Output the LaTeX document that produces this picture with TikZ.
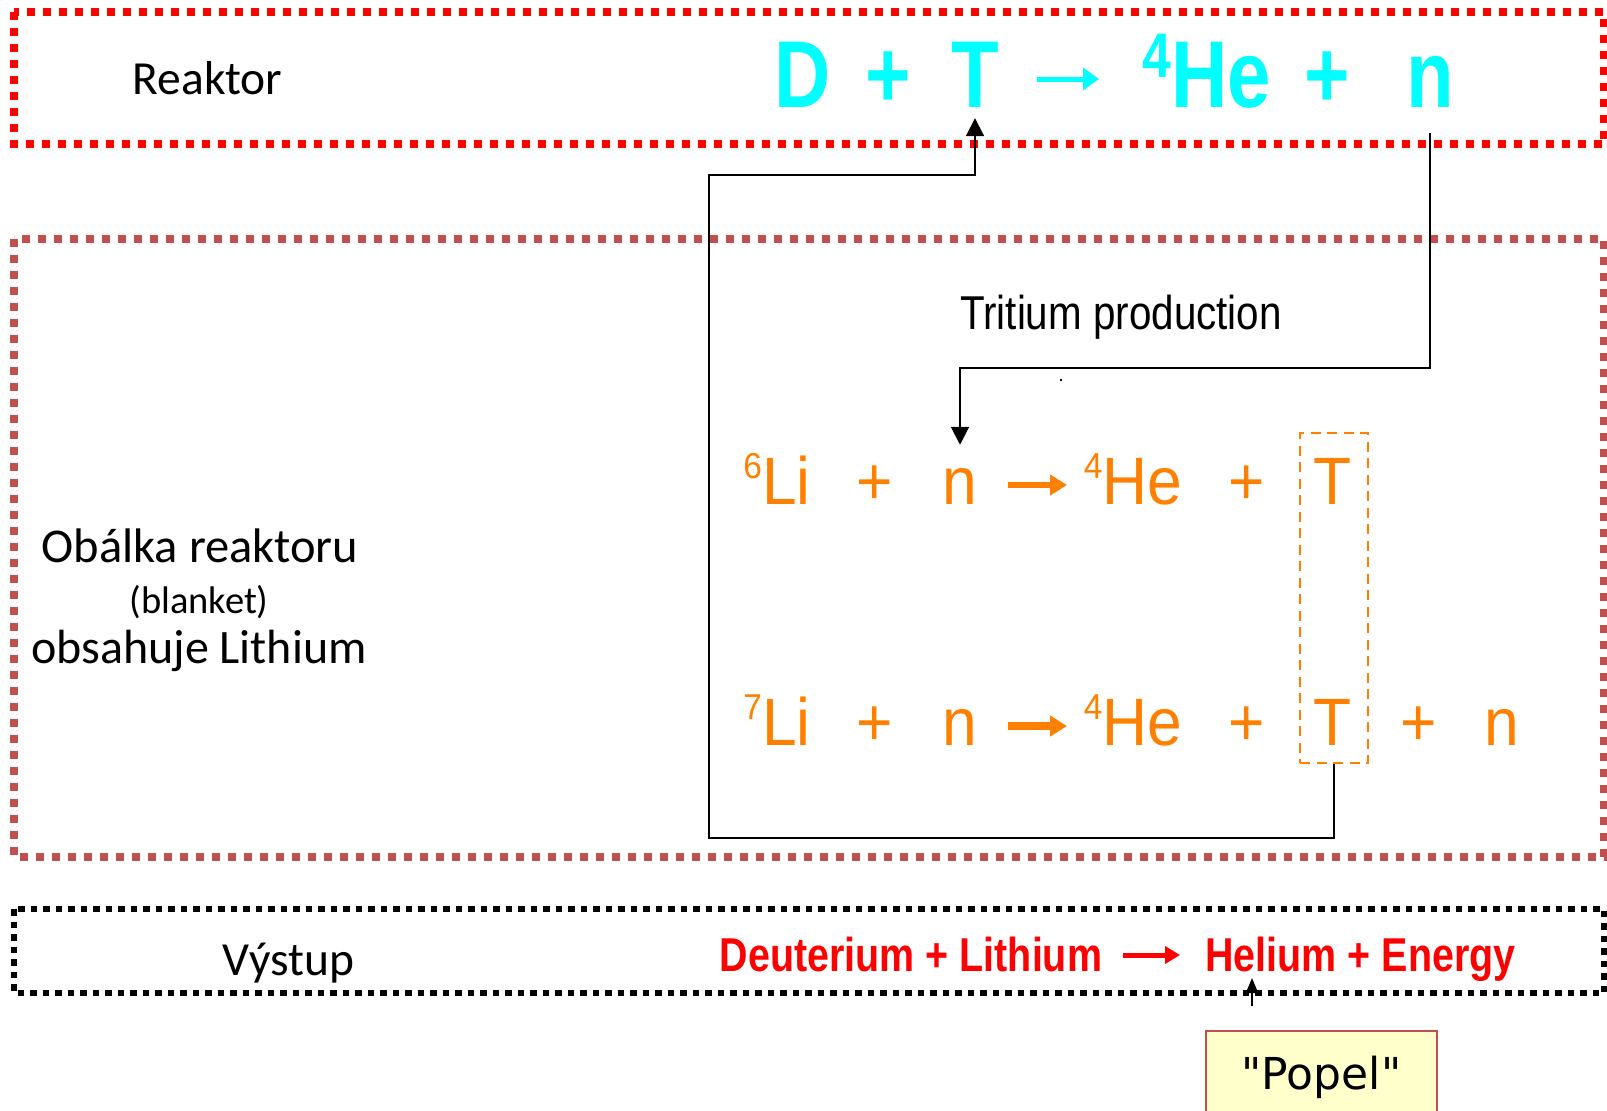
\documentclass[tikz,border=0pt]{standalone}
\usepackage{fontspec}
\setmainfont{Carlito}
\newfontfamily\cyanfont[FakeStretch=0.82]{Liberation Sans}
\newfontfamily\orfont[FakeStretch=0.93]{Liberation Sans}
\newfontfamily\trifont[FakeStretch=0.85]{Liberation Sans}
\newfontfamily\redfont[FakeStretch=0.83]{Liberation Sans}
\newfontfamily\popfont{DejaVu Sans}
\usetikzlibrary{arrows.meta}
\definecolor{cyanT}{RGB}{0,255,255}
\definecolor{orangeT}{RGB}{255,128,0}
\definecolor{redT}{RGB}{255,0,0}
\definecolor{brownT}{RGB}{192,80,77}
\definecolor{popfill}{RGB}{255,255,204}
\newcommand\cysup[1]{\raisebox{30pt}{\fontsize{63}{63}\selectfont #1}}
\newcommand\orsup[1]{\raisebox{26pt}{\fontsize{36}{36}\selectfont #1}}
\tikzset{
  cy/.style={text=cyanT, inner sep=0pt, anchor=base, font=\cyanfont\bfseries\fontsize{95}{95}\selectfont},
  orn/.style={text=orangeT, inner sep=0pt, anchor=base, font=\orfont\fontsize{67}{67}\selectfont},
  rd/.style={text=redT, inner sep=0pt, anchor=base, font=\redfont\bfseries\fontsize{47.5}{47.5}\selectfont},
  lbl/.style={inner sep=0pt, anchor=base, font=\fontsize{47.5}{47.5}\selectfont},
  conn/.style={draw=black, line width=2pt},
  tip/.style={-{Triangle[length=18pt,width=18pt]}},
  eqarrow/.style={line width=#1, -{Triangle[length=17pt,width=20pt]}},
}
\begin{document}
\begin{tikzpicture}[x=1pt,y=-1pt]
\useasboundingbox (0,0) rectangle (1607,1111);
\clip (0,0) rectangle (1607,1111);
\fill[white] (0,0) rectangle (1607,1111);

% boxes
\draw[redT, line width=8pt, dash pattern=on 8pt off 8pt] (14,11.5) rectangle (1604,144);
\draw[brownT, line width=8pt, dash pattern=on 8pt off 8pt] (14,239) rectangle (1604,857);
\draw[black, line width=6.5pt, dash pattern=on 6.5pt off 6pt] (14,909) rectangle (1604,993);

% reactor
\node[lbl] (reaktor) at (207.5,94) {Reaktor};
\node[cy] (D1) at (803,107) {D};
\node[cy] (p1) at (888,107) {+};
\node[cy] (T1) at (975,107) {T};
\coordinate (ca1) at (1037,79);
\coordinate (ca2) at (1099,79);
\draw[cyanT, line width=5pt, -{Triangle[length=16pt,width=22pt]}] (ca1) -- (ca2);
\node[cy] (He1) at (1207,107) {\cysup{4}He};
\node[cy] (p2) at (1327,107) {+};
\node[cy] (n1) at (1430,107) {n};

% blanket
\node[inner sep=0pt, anchor=base, font=\fontsize{48.5}{48.5}\selectfont] (obal1) at (200,562) {Obálka reaktoru};
\node[inner sep=0pt, anchor=base, font=\fontsize{38.5}{38.5}\selectfont] (obal2) at (199,613) {(blanket)};
\node[inner sep=0pt, anchor=base, font=\fontsize{48}{48}\selectfont] (obal3) at (199,663) {obsahuje Lithium};

\node[inner sep=0pt, anchor=base, font=\trifont\fontsize{47.5}{47.5}\selectfont] (trit) at (1121,329) {Tritium production};
\fill[black] (1061,380) circle (1.3pt);

% row 1
\node[orn] (Li6) at (777,504) {\orsup{6}Li};
\node[orn] (rp1) at (875,504) {+};
\node[orn] (rn1) at (960,504) {n};
\coordinate (oa1) at (1008,485);
\coordinate (oa2) at (1067,485);
\draw[orangeT, eqarrow=6.5pt] (oa1) -- (oa2);
\node[orn] (rHe1) at (1133,504) {\orsup{4}He};
\node[orn] (rp2) at (1247,504) {+};
\node[orn] (rT1) at (1333,504) {T};

% row 2
\node[orn] (Li7) at (777,745) {\orsup{7}Li};
\node[orn] (sp1) at (875,745) {+};
\node[orn] (sn1) at (960,745) {n};
\coordinate (ob1) at (1008,726);
\coordinate (ob2) at (1067,726);
\draw[orangeT, eqarrow=8pt] (ob1) -- (ob2);
\node[orn] (sHe1) at (1133,745) {\orsup{4}He};
\node[orn] (sp2) at (1247,745) {+};
\node[orn] (sT1) at (1333,745) {T};
\node[orn] (sp3) at (1419,745) {+};
\node[orn] (sn2) at (1502,745) {n};

% T box
\node[draw=orangeT, line width=2.5pt, dash pattern=on 10pt off 6.5pt, minimum width=68pt, minimum height=330pt, inner sep=0pt] (Tbox) at (1334,598) {};

% connectors
\coordinate (cb) at (709,838);
\coordinate (ct) at (709,175);
\draw[conn, tip, shorten >=11pt] (Tbox.south) |- (cb) -- (ct) -| (T1.south);
\coordinate (h2) at (0,368);
\draw[conn, tip, shorten <=26pt, shorten >=23pt] (n1.south) |- (rn1.north |- h2) -- (rn1.north);

% output
\node[lbl] (vystup) at (288.5,975) {Výstup};
\node[rd] (rl) at (911,971) {Deuterium + Lithium};
\coordinate (ra1) at (1123,955);
\coordinate (ra2) at (1180,955);
\draw[redT, line width=5pt, -{Triangle[length=15pt,width=17pt]}] (ra1) -- (ra2);
\node[rd] (rr) at (1360.5,971) {Helium + Energy};

% popel
\node[draw=brownT, fill=popfill, line width=1.5pt, anchor=north, minimum width=231pt, inner xsep=0pt, inner ysep=27pt, text height=32pt, text depth=60pt, font=\popfont\fontsize{44}{44}\selectfont] (popel) at (1321.5,1030) {"Popel"};
\coordinate (pA) at (1252,1006);
\coordinate (pB) at (1252,978);
\draw[conn, -{Triangle[length=15pt,width=12pt]}] (pA) -- (pB);
\end{tikzpicture}
\end{document}
